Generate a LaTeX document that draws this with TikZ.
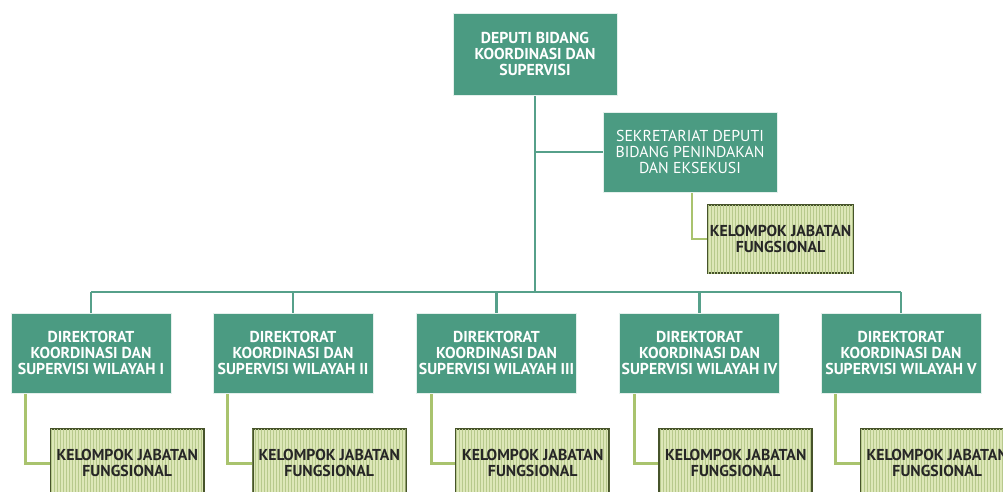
\documentclass[tikz,border=0pt]{standalone}
\usepackage{fontspec}
\setmainfont{PT Sans}
\usetikzlibrary{patterns}
\definecolor{teal1}{HTML}{4B9B82}
\definecolor{tealline}{HTML}{56A08A}
\definecolor{olive}{HTML}{A9C36E}
\definecolor{kjfbg}{HTML}{DDE7B8}
\definecolor{kjfstripe}{HTML}{B7C98C}
\definecolor{kjfborder}{HTML}{46532A}
\tikzset{
  orgbox/.style={draw=white!85!teal1, line width=0.6pt, fill=teal1, text=white, align=center,
    minimum width=160pt, minimum height=80pt, inner sep=1pt,
    font=\fontsize{15.8}{16.2}\selectfont\bfseries},
  kjf/.style={draw=kjfborder, line width=2pt, fill=kjfbg, text=black!85, align=center,
    minimum width=153pt, minimum height=68pt, inner sep=1pt,
    postaction={pattern=vertical lines, pattern color=kjfstripe},
    font=\fontsize{15.8}{16.2}\selectfont\bfseries},
  tline/.style={draw=tealline, line width=2.6pt},
  oline/.style={draw=olive, line width=2.6pt},
}
\begin{document}
\begin{tikzpicture}[x=1pt,y=-1pt]
\useasboundingbox (0,0) rectangle (1003,492);
\clip (0,0) rectangle (1003,492);
\fill[white] (0,0) rectangle (1003,492);
\coordinate (bus) at (0,292);
% named boxes (placed first so connectors can refer to them)
\node[orgbox, minimum width=164pt, minimum height=82pt] (top) at (535,54) {DEPUTI BIDANG\\KOORDINASI DAN\\SUPERVISI};
\node[orgbox, minimum width=174pt, font=\fontsize{15.8}{16.2}\selectfont] (sek) at (690,152) {SEKRETARIAT DEPUTI\\BIDANG PENINDAKAN\\DAN EKSEKUSI};
\node[kjf, minimum width=145pt] (k0) at (780.5,239) {KELOMPOK JABATAN\\FUNGSIONAL};
\foreach \i/\x/\r in {1/91/I,2/293/II,3/496.5/III,4/699.5/IV,5/901/V}{
  \node[orgbox] (d\i) at (\x,353) {DIREKTORAT\\KOORDINASI DAN\\SUPERVISI WILAYAH \r};
  \node[kjf, anchor=north west] (k\i) at ([xshift=39pt,yshift=-35pt]d\i.south west) {KELOMPOK JABATAN\\FUNGSIONAL};
}
% connectors
\draw[tline] (top.south) -- (top.south |- bus);
\draw[tline] (top.south |- sek.west) -- (sek.west);
\draw[tline] (d1.north |- bus) -- (d5.north |- bus);
\foreach \i in {1,...,5}{
  \draw[tline] (d\i.north |- bus) -- (d\i.north);
  \draw[oline] ([xshift=15pt]d\i.south west) |- (k\i.west);
}
\draw[oline] ([xshift=2pt]sek.south) |- (k0.west);
% redraw boxes over the connectors
\node[orgbox, minimum width=164pt, minimum height=82pt] at (top) {DEPUTI BIDANG\\KOORDINASI DAN\\SUPERVISI};
\node[orgbox, minimum width=174pt, font=\fontsize{15.8}{16.2}\selectfont] at (sek) {SEKRETARIAT DEPUTI\\BIDANG PENINDAKAN\\DAN EKSEKUSI};
\node[kjf, minimum width=145pt] at (k0) {KELOMPOK JABATAN\\FUNGSIONAL};
\foreach \i/\r in {1/I,2/II,3/III,4/IV,5/V}{
  \node[orgbox] at (d\i) {DIREKTORAT\\KOORDINASI DAN\\SUPERVISI WILAYAH \r};
  \node[kjf] at (k\i) {KELOMPOK JABATAN\\FUNGSIONAL};
}
\end{tikzpicture}
\end{document}
